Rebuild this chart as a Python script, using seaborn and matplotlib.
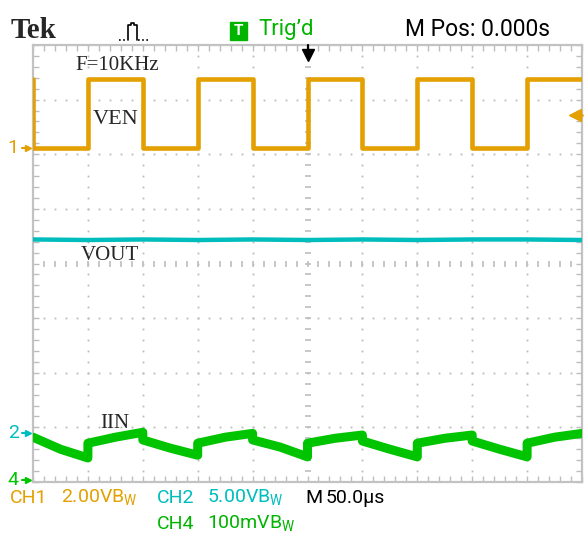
import numpy as np
import pandas as pd
import seaborn as sns
import matplotlib.pyplot as plt
from matplotlib.lines import Line2D
from matplotlib.patches import Rectangle

# time axis in us (10 div x 50 us, trigger at 0), vertical axis in divisions (8 div)
ven_t = [-250, -250, -200, -200, -150, -150, -100, -100, -50, -50, 0, 0,
         50, 50, 100, 100, 150, 150, 200, 200, 250]
ven_v = [3.38, 2.11, 2.11, 3.38, 3.38, 2.11, 2.11, 3.38, 3.38, 2.11, 2.11, 3.38,
         3.38, 2.11, 2.11, 3.38, 3.38, 2.11, 2.11, 3.38, 3.38]

vout_t = [-250, -200, -150, -100, -50, 0, 50, 100, 150, 200, 250]
vout_v = [0.44, 0.43, 0.44, 0.43, 0.44, 0.43, 0.44, 0.43, 0.44, 0.44, 0.43]

iin_t = [-250, -225, -200, -200, -175, -150, -150, -125, -100, -100, -75, -50,
         -50, -25, 0, 0, 25, 50, 50, 75, 100, 100, 125, 150, 150, 175, 200,
         200, 225, 250]
iin_v = [-3.18, -3.40, -3.56, -3.29, -3.18, -3.09, -3.23, -3.38, -3.51, -3.29, -3.18, -3.11,
         -3.23, -3.36, -3.54, -3.29, -3.20, -3.14, -3.25, -3.40, -3.54, -3.29, -3.20, -3.14,
         -3.25, -3.40, -3.54, -3.29, -3.18, -3.11]

ch_markers = ["1", "2", "4"]
ch_marker_y = [2.11, -3.10, -3.97]
trig_level = 2.72

ORANGE = "#e3a000"
CYAN = "#00bdbd"
GREEN = "#00c400"
TXT_GREEN = "#00b400"
GRID = "#b9bdb9"

sns.set_style("white")
plt.rcParams["font.family"] = ["Roboto", "DejaVu Sans"]

W, H = 587, 538
fig = plt.figure(figsize=(W / 100, H / 100), dpi=100)
ax = fig.add_axes([33 / W, 1 - 482 / H, 549 / W, 437 / H])
ax.set_xlim(-250, 250)
ax.set_ylim(-4, 4)

# graticule
for s in ax.spines.values():
    s.set_color("#c2c2c2")
    s.set_linewidth(1.6)
ax.set_xticks(np.arange(-250, 251, 10))
ax.set_yticks(np.arange(-4, 4.01, 0.2))
ax.tick_params(direction="in", length=4, width=1, color="#bdbdbd",
               top=True, bottom=True, left=True, right=True,
               labelbottom=False, labelleft=False)

ydots = np.arange(-4, 4.01, 0.2)
xdots = np.arange(-250, 251, 10)
for t in [-200, -150, -100, -50, 50, 100, 150, 200]:
    ax.plot(np.full(len(ydots), t), ydots, ls="none", marker="s", ms=1.3,
            color=GRID, mew=0, zorder=1)
for v in [-3, -2, -1, 1, 2, 3]:
    ax.plot(xdots, np.full(len(xdots), v), ls="none", marker="s", ms=1.3,
            color=GRID, mew=0, zorder=1)
ax.plot(np.zeros(len(ydots)), ydots, ls="none", marker="_", ms=4, mew=1.2,
        color="#bdbdbd", zorder=1)
ax.plot(xdots, np.zeros(len(xdots)), ls="none", marker="|", ms=4, mew=1.2,
        color="#bdbdbd", zorder=1)

# traces
ven = pd.DataFrame({"t": ven_t, "v": ven_v})
vout = pd.DataFrame({"t": vout_t, "v": vout_v})
iin = pd.DataFrame({"t": iin_t, "v": iin_v})
sns.lineplot(data=ven, x="t", y="v", sort=False, estimator=None, ax=ax,
             color=ORANGE, lw=3.3, zorder=3)
sns.lineplot(data=vout, x="t", y="v", sort=False, estimator=None, ax=ax,
             color=CYAN, lw=3.2, zorder=3)
sns.lineplot(data=iin, x="t", y="v", sort=False, estimator=None, ax=ax,
             color=GREEN, lw=6.5, zorder=3)
ax.set_xlabel("")
ax.set_ylabel("")

# trigger position and level arrows
ax.plot([0, 0], [4.0, 3.88], color="black", lw=1.6, clip_on=False, zorder=5)
ax.plot([0], [3.82], marker="v", ms=9, color="black", clip_on=False, zorder=5)
ax.plot([246, 250], [trig_level, trig_level], color=ORANGE, lw=2, clip_on=False, zorder=5)
ax.plot([243.5], [trig_level], marker="<", ms=8, color=ORANGE, clip_on=False, zorder=5)

# channel ground markers
for lab, y, c in zip(ch_markers, ch_marker_y, [ORANGE, CYAN, GREEN]):
    ax.plot([-260, -255], [y, y], color=c, lw=1.5, clip_on=False)
    ax.plot([-255], [y], marker=">", ms=5, color=c, clip_on=False)
    ax.text(-268, y, lab, color=c, fontsize=14, ha="center", va="center",
            clip_on=False)


def ft(x, y, s, **kw):
    fig.text(x / W, 1 - y / H, s, va="center", **kw)


# header
ft(11, 31, "Tek", family="Liberation Serif", weight="bold", fontsize=21)
pulse_x = np.array([128, 128, 131, 131, 134, 134, 137, 137])
pulse_y = np.array([40, 25, 25, 23, 23, 25, 25, 40])
fig.add_artist(Line2D(pulse_x / W, 1 - pulse_y / H, color="black", lw=1.2))
for xs in ([119, 127], [138, 148]):
    fig.add_artist(Line2D(np.array(xs) / W, 1 - np.array([40, 40]) / H,
                          color="black", lw=1.2, ls=(0, (1, 1.5))))
fig.add_artist(Rectangle((230 / W, 1 - 40 / H), 17 / W, 18 / H,
                         transform=fig.transFigure, color=TXT_GREEN))
ft(238.5, 31, "T", color="white", weight="bold", fontsize=11, ha="center")
ft(258, 30, "Trig\u2019d", color=TXT_GREEN, fontsize=16)
ft(405, 30, "M Pos: 0.000s", color="black", fontsize=16.5)

# waveform annotations
ft(75, 65, "F=10KHz", family="Liberation Serif", fontsize=15)
ft(93, 119, "VEN", family="Liberation Serif", fontsize=16)
ft(81, 255, "VOUT", family="Liberation Serif", fontsize=15)
ft(100, 424, "IIN", family="Liberation Serif", fontsize=15)

# footer
bw = r"B$_\mathregular{W}$"
ft(10, 498, "CH1", color=ORANGE, fontsize=14)
ft(61, 498, "2.00V" + bw, color=ORANGE, fontsize=14)
ft(157, 498, "CH2", color=CYAN, fontsize=14)
ft(207, 498, "5.00V" + bw, color=CYAN, fontsize=14)
ft(305, 498, "M", color="black", fontsize=14)
ft(326, 498, "50.0\u00b5s", color="black", fontsize=14)
ft(157, 524, "CH4", color=TXT_GREEN, fontsize=14)
ft(207, 524, "100mV" + bw, color=TXT_GREEN, fontsize=14)

fig.savefig("out.png", dpi=100, facecolor="white")
